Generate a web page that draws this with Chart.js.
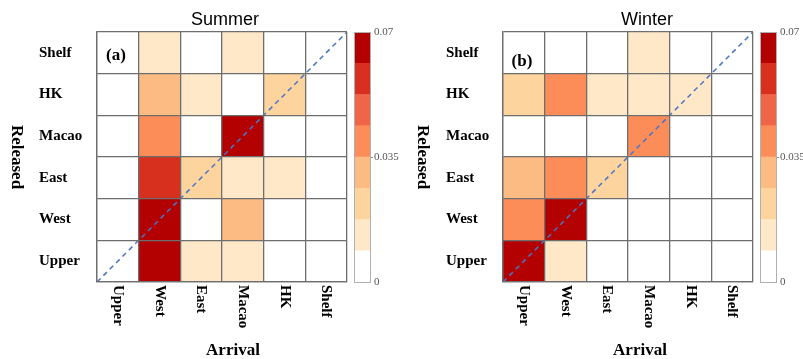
<!DOCTYPE html>
<html><head><meta charset="utf-8">
<script src="https://cdn.jsdelivr.net/npm/chart.js@4.4.0/dist/chart.umd.min.js"></script>
<style>
body{margin:0;width:803px;height:359px;position:relative;background:#fff;overflow:hidden}
canvas{position:absolute;top:0}
.t{position:absolute;white-space:nowrap;color:#000;line-height:1}
.title{font-family:'Liberation Sans',Arial,sans-serif;font-size:18px;transform:translate(-50%,-50%)}
.ax{font-family:'Liberation Serif','Times New Roman',serif;font-weight:bold;font-size:17px;transform:translate(-50%,-50%)}
.vert{writing-mode:vertical-rl}
</style></head><body>
<canvas id="c1" width="400" height="359" style="left:0px"></canvas>
<canvas id="c2" width="400" height="359" style="left:400px"></canvas>
<canvas id="cb1" width="63" height="359" style="left:340px"></canvas>
<canvas id="cb2" width="57" height="359" style="left:746px"></canvas>
<div class="t title" style="left:225px;top:19px">Summer</div>
<div class="t title" style="left:647px;top:19px">Winter</div>
<div class="t ax vert" style="left:17px;top:157px">Released</div>
<div class="t ax vert" style="left:423px;top:157px">Released</div>
<div class="t ax" style="left:233px;top:349px">Arrival</div>
<div class="t ax" style="left:640px;top:349px">Arrival</div>
<div class="t ax" style="left:116px;top:54px">(a)</div>
<div class="t ax" style="left:522px;top:60px">(b)</div>
<script>
// Arrival (columns, left to right) and Released (rows, bottom to top)
const arrival = ['Upper', 'West', 'East', 'Macao', 'HK', 'Shelf'];
const released = ['Upper', 'West', 'East', 'Macao', 'HK', 'Shelf'];

// Summer connectivity: rows = released (bottom->top), columns = arrival
const summerUpper = [0.004, 0.068, 0.012, 0.012, 0.002, 0.001];
const summerWest  = [0.003, 0.069, 0.005, 0.030, 0.002, 0.001];
const summerEast  = [0.002, 0.058, 0.022, 0.013, 0.012, 0.001];
const summerMacao = [0.002, 0.040, 0.004, 0.067, 0.003, 0.001];
const summerHK    = [0.001, 0.030, 0.012, 0.003, 0.022, 0.002];
const summerShelf = [0.001, 0.011, 0.002, 0.011, 0.003, 0.004];

// Winter connectivity
const winterUpper = [0.068, 0.012, 0.003, 0.001, 0.001, 0.001];
const winterWest  = [0.040, 0.069, 0.004, 0.001, 0.001, 0.001];
const winterEast  = [0.030, 0.041, 0.022, 0.003, 0.001, 0.001];
const winterMacao = [0.002, 0.003, 0.003, 0.040, 0.004, 0.001];
const winterHK    = [0.022, 0.041, 0.012, 0.012, 0.011, 0.002];
const winterShelf = [0.001, 0.002, 0.002, 0.012, 0.003, 0.005];

// Colour scale
const cbMax = 0.07;
const palette = ['#ffffff', '#fee8c8', '#fdd49e', '#fdbb84', '#fc8d59', '#ef6548', '#d7301f', '#b30000'];
const cbTickValues = [0, 0.035, 0.07];
const cbTickLabels = ['0', '0.035', '0.07'];

const summer = [summerUpper, summerWest, summerEast, summerMacao, summerHK, summerShelf];
const winter = [winterUpper, winterWest, winterEast, winterMacao, winterHK, winterShelf];

const binW = cbMax / palette.length;
function colorFor(v) {
  return palette[Math.min(palette.length - 1, Math.max(0, Math.floor(v / binW)))];
}
const GRID = '#6e6e6e';
const SERIF = "'Liberation Serif', 'Times New Roman', serif";

const xLabelPlugin = {
  id: 'xlabels',
  afterDraw(chart) {
    const sx = chart.scales.x, ctx = chart.ctx;
    ctx.save();
    ctx.font = 'bold 15px ' + SERIF;
    ctx.fillStyle = '#000';
    ctx.textAlign = 'left';
    ctx.textBaseline = 'middle';
    chart.data.labels.forEach((lab, i) => {
      const px = sx.getPixelForValue(i);
      ctx.save();
      ctx.translate(px, chart.chartArea.bottom + 3);
      ctx.rotate(Math.PI / 2);
      ctx.fillText(lab, 0, 0);
      ctx.restore();
    });
    ctx.restore();
  }
};

function panel(id, matrix, padLeft, padRight, labW) {
  const datasets = released.map((r, i) => ({
    label: r,
    data: arrival.map(() => 1),
    backgroundColor: matrix[i].map(colorFor),
    borderWidth: 0,
    grouped: false,
    xAxisID: 'x', yAxisID: 'y',
    categoryPercentage: 1, barPercentage: 1
  }));
  datasets.push({
    type: 'line', label: 'diag', order: -1,
    data: [{x: 0, y: 0}, {x: arrival.length, y: released.length}],
    xAxisID: 'xl', yAxisID: 'yl',
    borderColor: '#4a74c6', borderWidth: 1.5, borderDash: [5, 4],
    pointRadius: 0, fill: false
  });
  new Chart(document.getElementById(id), {
    type: 'bar',
    data: {labels: arrival, datasets},
    options: {
      responsive: false, animation: false,
      layout: {padding: {left: padLeft, right: padRight, top: 32, bottom: 0}},
      plugins: {legend: {display: false}, tooltip: {enabled: false}},
      scales: {
        x: {type: 'category', stacked: true, offset: true,
            grid: {offset: true, color: GRID, lineWidth: 1.3, drawTicks: false, z: 1},
            border: {color: GRID, width: 1.3, z: 1},
            ticks: {display: false},
            afterFit(s) { s.height = 77; }},
        y: {type: 'linear', stacked: true, min: 0, max: released.length, display: false},
        xl: {type: 'linear', min: 0, max: arrival.length, offset: false, display: false},
        yl: {type: 'linear', min: 0, max: released.length, offset: false, display: false},
        yLab: {type: 'category', labels: released.slice().reverse(), position: 'left', offset: true,
            grid: {offset: true, color: GRID, lineWidth: 1.3, drawTicks: false, z: 1},
            border: {color: GRID, width: 1.3, z: 1},
            ticks: {crossAlign: 'far', color: '#000', font: {family: SERIF, weight: 'bold', size: 15}},
            afterFit(s) { s.width = labW; }}
      }
    },
    plugins: [xLabelPlugin]
  });
}

function colorbar(id, padLeft, yW) {
  new Chart(document.getElementById(id), {
    type: 'bar',
    data: {
      labels: [''],
      datasets: palette.map((c) => ({data: [binW], backgroundColor: c, borderWidth: 0,
        grouped: false, categoryPercentage: 1, barPercentage: 1}))
    },
    options: {
      responsive: false, animation: false,
      layout: {padding: {left: padLeft, right: 0, top: 32, bottom: 77}},
      plugins: {legend: {display: false}, tooltip: {enabled: false}},
      scales: {
        x: {type: 'category', stacked: true, offset: true,
            grid: {offset: true, color: '#b0b0b0', lineWidth: 1, drawTicks: false, z: 1},
            border: {display: false}, ticks: {display: false},
            afterFit(s) { s.height = 0; }},
        y: {stacked: true, position: 'right', min: 0, max: cbMax,
            afterBuildTicks(s) { s.ticks = cbTickValues.map(v => ({value: v})); },
            grid: {color: (c) => (c.tick && (c.tick.value === 0 || c.tick.value === cbMax)) ? '#b0b0b0' : 'rgba(0,0,0,0)',
                   tickColor: (c) => (c.tick && c.tick.value === 0.035) ? '#888' : 'rgba(0,0,0,0)', tickLength: 3, z: 1},
            border: {color: '#b0b0b0', z: 1},
            ticks: {padding: 1, color: '#555', font: {family: SERIF, size: 11},
                    callback: (v, i) => cbTickLabels[i]},
            afterFit(s) { s.width = yW; }}
      }
    }
  });
}

panel('c1', summer, 39, 53, 58);
panel('c2', winter, 46, 47, 57);
colorbar('cb1', 14, 33);
colorbar('cb2', 14, 27);
</script>
</body></html>
